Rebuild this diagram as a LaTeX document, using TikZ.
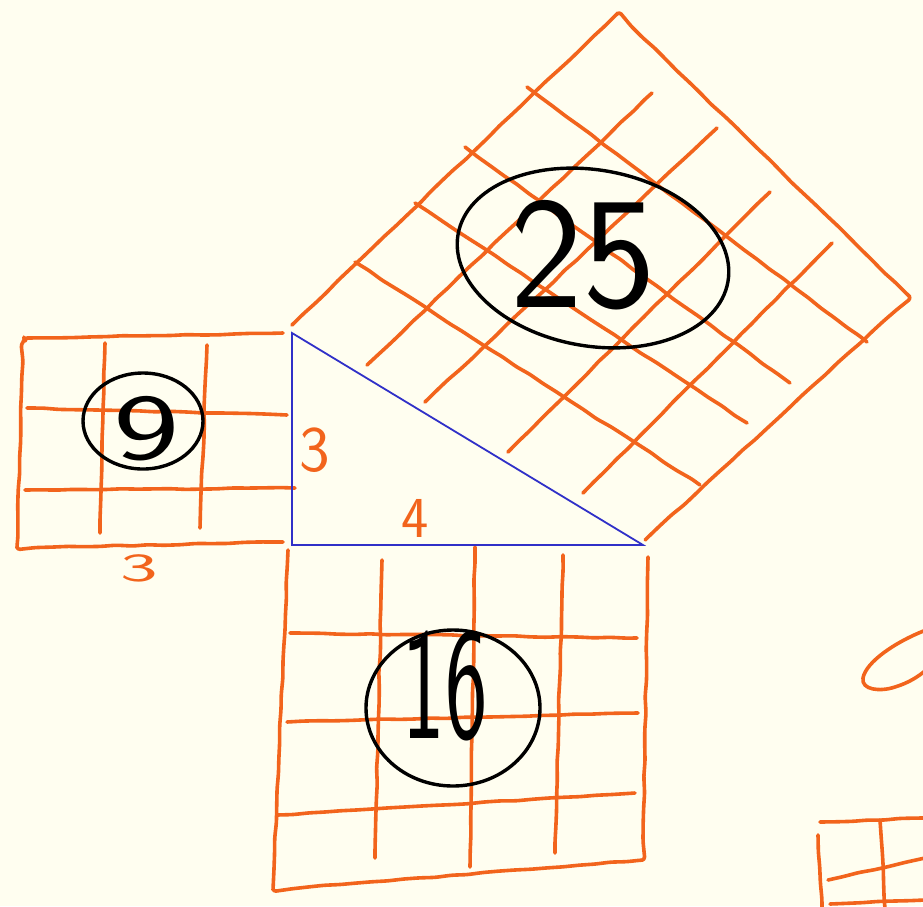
\documentclass[tikz,border=0pt]{standalone}
\usepackage{graphicx}
\usetikzlibrary{decorations.pathmorphing}
\definecolor{paper}{RGB}{255,254,240}
\definecolor{chalk}{RGB}{242,100,28}
\definecolor{legblue}{RGB}{48,48,200}
\newcommand{\ringaround}[4]{
	\draw[ink, rotate around={#4:#1}] #1 ellipse ({#2} and {#3});
}
\begin{document}
\begin{tikzpicture}[x=1pt, y=-1pt,
	smoothpen/.style={draw=chalk, line width=3.6pt, line cap=round, line join=round},
	pen/.style={smoothpen,
		decorate, decoration={random steps, segment length=16pt, amplitude=0.6pt},
		rounded corners=3pt},
	ink/.style={draw=black, line width=3.4pt},
	sidelabel/.style={text=chalk, font=\sffamily, inner sep=0pt},
	areanum/.style={text=black, font=\sffamily, inner sep=0pt}]
	\pgfmathsetseed{7}
	\fill[paper] (0,0) rectangle (923,906);
	\useasboundingbox (0,0) rectangle (923,906);

	%% small square
	\draw[pen] (283,333) -- (27,338) -- (23,342) -- (17,548) -- (283,542);
	\draw[pen] (105,343) -- (100,533);
	\draw[pen] (207,345) -- (200,528);
	\draw[pen] (27,408) -- (287,415);
	\draw[pen] (25,490) -- (295,488);

	%% lower square
	\draw[pen] (288,550) -- (273,890) -- (643,860) -- (648,557);
	\draw[pen] (382,560) -- (375,858);
	\draw[pen] (475,547) -- (470,867);
	\draw[pen] (563,555) -- (555,853);
	\draw[pen] (290,633) -- (637,638);
	\draw[pen] (287,722) -- (638,713);
	\draw[pen] (277,815) -- (635,793);

	%% square on the long side
	% outline
	\draw[pen] (292,325) -- (618,13) -- (910,297) -- (645,540);
	% lines from the upper left edge
	\draw[pen] (355,262) -- (700,485);
	\draw[pen] (415,203) -- (747,423);
	\draw[pen] (465,147) -- (790,383);
	\draw[pen] (527,87) -- (867,342);
	% lines from the long side
	\draw[pen] (367,365) -- (652,93);
	\draw[pen] (425,402) -- (717,128);
	\draw[pen] (508,452) -- (770,192);
	\draw[pen] (583,493) -- (832,243);

	%% triangle
	\draw[legblue, line width=1.8pt] (292,333) -- (292,545) -- (643,545) -- cycle;

	%% bits at the right edge
	\draw[smoothpen] (926,630) .. controls (895,642) and (866,662) .. (863,678)
		.. controls (861,690) and (880,692) .. (895,687)
		.. controls (908,683) and (918,677) .. (926,670);
	\draw[pen] (820,822) -- (925,818);
	\draw[pen] (818,835) -- (822,908);
	\draw[pen] (880,820) -- (885,908);
	\draw[pen] (828,880) -- (925,858);
	\draw[pen] (830,904) -- (925,900);

	%% rings and areas
	\ringaround{(143,421)}{60}{48}{0}
	\ringaround{(453,708)}{87}{78}{0}
	\ringaround{(593,258)}{137}{88}{-10}
	\node[areanum] (nine) at (147,429) {\fontsize{94}{94}\selectfont\scalebox{1.5}[1]{9}};
	\node[areanum] (sixteen) at (445,686) {\fontsize{100}{100}\selectfont\scalebox{0.9}[1.6]{16}};
	\node[areanum] (twentyfive) at (583,255) {\fontsize{110}{110}\selectfont\scalebox{1.4}[1.45]{25}};

	%% side lengths
	\node[sidelabel] (shortbelow) at (139,568) {\fontsize{40}{40}\selectfont\scalebox{2}[1]{3}};
	\node[sidelabel] (shortside) at (315,450) {\fontsize{65}{65}\selectfont 3};
	\node[sidelabel] (longside) at (415,518) {\fontsize{58}{58}\selectfont 4};
\end{tikzpicture}
\end{document}
